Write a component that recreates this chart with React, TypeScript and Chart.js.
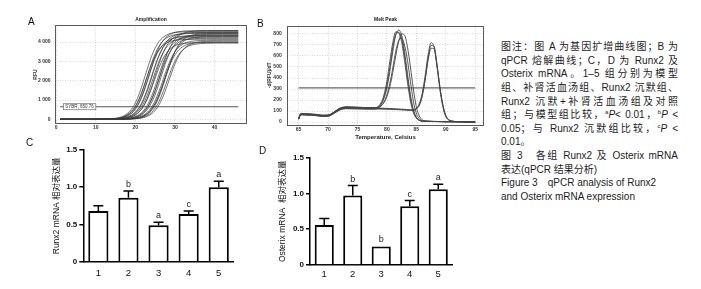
import React, { useEffect, useRef } from 'react';
import { Chart, registerables } from 'chart.js';

Chart.register(...registerables);

const SANS = '"Liberation Sans", Arial, "Noto Sans CJK SC", sans-serif';

// ---------------- Panel A: amplification curves ----------------
const A_CYCLES = [1, 10, 15, 17, 19, 20, 21, 22, 23, 24, 25, 26, 27, 28, 29, 30, 31, 32, 33, 35, 38, 42, 46];
const A_RFU_1 = [0, 5, 55, 175, 515, 850, 1330, 1945, 2605, 3220, 3700, 4035, 4250, 4375, 4455, 4495, 4520, 4530, 4540, 4545, 4550, 4550, 4550];
const A_RFU_2 = [0, 3, 40, 125, 385, 650, 1050, 1590, 2225, 2860, 3400, 3800, 4065, 4230, 4325, 4380, 4410, 4430, 4440, 4445, 4450, 4450, 4450];
const A_RFU_3 = [0, 2, 30, 97, 305, 520, 860, 1345, 1965, 2635, 3255, 3740, 4080, 4295, 4425, 4505, 4545, 4570, 4580, 4595, 4600, 4600, 4600];
const A_RFU_4 = [0, 2, 22, 70, 218, 378, 635, 1027, 1553, 2175, 2797, 3323, 3715, 3972, 4133, 4228, 4280, 4311, 4328, 4343, 4350, 4350, 4350];
const A_RFU_5 = [0, 1, 16, 51, 162, 281, 480, 795, 1241, 1815, 2435, 3009, 3455, 3770, 3970, 4089, 4161, 4199, 4220, 4237, 4247, 4250, 4250];
const A_RFU_6 = [0, 1, 13, 41, 126, 225, 392, 657, 1062, 1607, 2250, 2894, 3438, 3843, 4109, 4275, 4374, 4428, 4460, 4487, 4498, 4500, 4500];
const A_RFU_7 = [0, 1, 7, 21, 67, 118, 210, 365, 613, 991, 1499, 2100, 2701, 3209, 3587, 3835, 3990, 4082, 4133, 4179, 4196, 4200, 4200];
const A_RFU_8 = [0, 0, 5, 16, 53, 92, 167, 290, 497, 823, 1285, 1879, 2521, 3115, 3577, 3903, 4110, 4233, 4308, 4369, 4396, 4400, 4400];
const A_RFU_9 = [0, 0, 4, 11, 37, 66, 115, 205, 357, 599, 968, 1464, 2050, 2636, 3132, 3501, 3743, 3895, 3985, 4063, 4092, 4100, 4100];
const A_RFU_10 = [0, 0, 3, 9, 29, 52, 90, 163, 284, 486, 804, 1256, 1836, 2464, 3044, 3496, 3814, 4016, 4137, 4248, 4291, 4300, 4300];
const A_RFU_11 = [0, 0, 2, 6, 20, 36, 63, 111, 198, 344, 577, 932, 1410, 1975, 2540, 3018, 3373, 3606, 3753, 3887, 3938, 3950, 3950];
const A_RFU_12 = [0, 0, 1, 4, 15, 27, 49, 85, 154, 267, 458, 757, 1183, 1729, 2321, 2867, 3293, 3592, 3783, 3965, 4038, 4050, 4050];
const A_RFU_13 = [0, 2, 33, 106, 326, 553, 904, 1393, 1993, 2617, 3168, 3589, 3873, 4052, 4159, 4220, 4255, 4275, 4286, 4297, 4300, 4300, 4300];
const A_RFU_14 = [0, 1, 19, 63, 196, 342, 579, 946, 1458, 2085, 2739, 3316, 3756, 4054, 4240, 4352, 4417, 4453, 4474, 4491, 4499, 4500, 4500];
const A_RFU_15 = [0, 3, 43, 137, 412, 686, 1092, 1624, 2227, 2805, 3278, 3616, 3835, 3969, 4047, 4092, 4118, 4132, 4140, 4148, 4150, 4150, 4150];
const A_RFU_16 = [0, 1, 8, 25, 80, 143, 251, 432, 719, 1145, 1703, 2334, 2941, 3436, 3790, 4020, 4160, 4243, 4290, 4331, 4348, 4350, 4350];
const A_RFU_17 = [0, 0, 6, 20, 64, 114, 201, 349, 592, 967, 1490, 2132, 2800, 3389, 3839, 4144, 4335, 4449, 4515, 4573, 4598, 4600, 4600];
const A_RFU_18 = [0, 0, 3, 10, 31, 56, 99, 174, 304, 515, 841, 1296, 1854, 2434, 2947, 3338, 3603, 3769, 3868, 3958, 3996, 4000, 4000];
const A_RFU_19 = [0, 0, 3, 8, 26, 46, 82, 146, 257, 441, 736, 1171, 1742, 2388, 3008, 3515, 3877, 4112, 4256, 4388, 4439, 4450, 4450];
const A_RFU_20 = [0, 1, 13, 41, 131, 230, 395, 658, 1048, 1558, 2136, 2690, 3143, 3468, 3678, 3806, 3882, 3925, 3949, 3970, 3979, 3980, 3980];
const A_CURVES = [
  A_RFU_1, A_RFU_2, A_RFU_3, A_RFU_4, A_RFU_5, A_RFU_6, A_RFU_7, A_RFU_8, A_RFU_9, A_RFU_10,
  A_RFU_11, A_RFU_12, A_RFU_13, A_RFU_14, A_RFU_15, A_RFU_16, A_RFU_17, A_RFU_18, A_RFU_19, A_RFU_20,
];
const A_THRESHOLD = 650.76;
const A_THRESHOLD_LABEL = 'SYBR, 650.76';
const A_X_TICKS = [0, 10, 20, 30, 40];
const A_Y_TICKS = [0, 1000, 2000, 3000, 4000];

// ---------------- Panel B: melt peak curves ----------------
const B_TEMPS = [65, 65.4, 66, 67, 68, 69, 70, 71, 72, 73, 74, 75, 76, 77, 78, 78.5, 79, 79.5, 80, 80.5, 81, 81.5, 82, 82.5, 83, 83.5, 84, 84.5, 85, 85.5, 86, 86.5, 87, 87.5, 88, 88.5, 89, 89.5, 90, 90.5, 91, 92, 95];
const B_MELT_1 = [28, 74, 72, 70, 66, 59, 60, 88, 122, 134, 133, 131, 130, 129, 129, 135, 160, 215, 310, 460, 640, 790, 835, 790, 640, 440, 250, 115, 45, 18, 10, 8, 7, 6, 5, 5, 4, 4, 3, 3, 3, 2, 0];
const B_MELT_2 = [32, 70, 68, 66, 62, 55, 56, 82, 115, 127, 126, 124, 123, 122, 122, 130, 160, 225, 335, 495, 675, 795, 815, 760, 600, 400, 220, 100, 40, 16, 9, 7, 6, 5, 5, 4, 4, 3, 3, 3, 2, 2, 0];
const B_MELT_3 = [35, 78, 76, 73, 69, 62, 63, 90, 125, 137, 136, 134, 132, 131, 130, 132, 145, 175, 230, 320, 450, 600, 730, 800, 790, 680, 500, 300, 140, 55, 20, 10, 7, 6, 5, 5, 4, 4, 3, 3, 3, 2, 0];
const B_MELT_4 = [25, 66, 64, 62, 58, 52, 53, 78, 110, 122, 121, 120, 119, 118, 118, 125, 145, 182, 248, 350, 490, 640, 740, 760, 700, 560, 370, 190, 80, 30, 12, 8, 7, 6, 5, 5, 4, 4, 3, 3, 3, 2, 0];
const B_MELT_5 = [30, 72, 70, 68, 64, 57, 58, 85, 118, 130, 129, 127, 126, 125, 125, 124, 123, 122, 120, 119, 118, 116, 115, 113, 112, 110, 108, 108, 125, 165, 260, 420, 610, 720, 685, 510, 300, 140, 50, 18, 8, 4, 0];
const B_MELT_6 = [28, 74, 72, 70, 66, 59, 60, 88, 122, 134, 133, 131, 130, 129, 128, 127, 126, 125, 124, 122, 121, 120, 118, 117, 115, 113, 112, 111, 122, 155, 240, 390, 580, 695, 690, 530, 320, 155, 58, 20, 9, 4, 0];
const B_MELT_7 = [25, 66, 64, 62, 58, 52, 53, 78, 110, 122, 121, 120, 119, 118, 118, 118, 117, 117, 116, 115, 114, 113, 112, 110, 109, 107, 106, 105, 118, 150, 235, 380, 560, 670, 665, 520, 320, 160, 60, 22, 9, 4, 0];
const B_MELT_8 = [35, 78, 76, 73, 69, 62, 63, 90, 125, 137, 136, 134, 132, 131, 131, 140, 175, 245, 370, 550, 720, 820, 810, 730, 560, 360, 190, 85, 35, 14, 8, 7, 6, 5, 5, 4, 4, 3, 3, 3, 2, 2, 0];
const B_CURVES = [B_MELT_1, B_MELT_2, B_MELT_3, B_MELT_4, B_MELT_5, B_MELT_6, B_MELT_7, B_MELT_8];
const B_THRESHOLD = 310;
const B_X_TICKS = [65, 70, 75, 80, 85, 90, 95];
const B_Y_TICKS = [0, 100, 200, 300, 400, 500, 600, 700, 800];

// ---------------- Panels C / D: bar charts ----------------
const GROUPS = ['1', '2', '3', '4', '5'];
const BAR_Y_TICKS = [0, 0.5, 1.0, 1.5];
const C_RUNX2_MEAN = [0.68, 0.86, 0.49, 0.64, 1.0];
const C_RUNX2_SD = [0.07, 0.09, 0.04, 0.04, 0.08];
const C_LETTERS = ['', 'b', 'a', 'c', 'a'];
const D_OSTERIX_MEAN = [0.56, 0.97, 0.26, 0.82, 1.06];
const D_OSTERIX_SD = [0.09, 0.14, 0, 0.08, 0.07];
const D_LETTERS = ['', 'b', 'b', 'c', 'a'];

type Geom = { left: number; top: number; width: number; height: number };

function ChartCanvas({ geom, build }: { geom: Geom; build: () => any }) {
  const ref = useRef<HTMLCanvasElement | null>(null);
  useEffect(() => {
    if (!ref.current) return;
    const chart = new Chart(ref.current, build());
    return () => chart.destroy();
  }, []);
  return (
    <canvas
      ref={ref}
      width={geom.width}
      height={geom.height}
      style={{ position: 'absolute', left: geom.left, top: geom.top, width: geom.width, height: geom.height }}
    />
  );
}

const framePlugin = (title: string, gap: number) => ({
  id: 'frame',
  afterDraw(chart: any) {
    const { ctx, chartArea: a } = chart;
    ctx.save();
    ctx.strokeStyle = '#5a5a5a';
    ctx.lineWidth = 1;
    ctx.strokeRect(Math.round(a.left) + 0.5, Math.round(a.top) + 0.5, Math.round(a.right - a.left) - 1, Math.round(a.bottom - a.top) - 1);
    ctx.fillStyle = '#222';
    ctx.font = `bold 5px ${SANS}`;
    ctx.textAlign = 'center';
    ctx.textBaseline = 'middle';
    ctx.fillText(title, (a.left + a.right) / 2, a.top - gap);
    ctx.restore();
  },
});

const thresholdLabelPlugin = {
  id: 'thrLabel',
  afterDatasetsDraw(chart: any) {
    const { ctx, scales } = chart;
    const x0 = scales.x.getPixelForValue(1.8);
    const y0 = scales.y.getPixelForValue(A_THRESHOLD);
    ctx.save();
    ctx.font = `4.5px ${SANS}`;
    const w = ctx.measureText(A_THRESHOLD_LABEL).width + 4;
    ctx.fillStyle = '#fff';
    ctx.fillRect(x0, y0 - 3, w, 6);
    ctx.strokeStyle = '#555';
    ctx.lineWidth = 0.6;
    ctx.strokeRect(x0, y0 - 3, w, 6);
    ctx.fillStyle = '#333';
    ctx.textBaseline = 'middle';
    ctx.fillText(A_THRESHOLD_LABEL, x0 + 2, y0 + 0.3);
    ctx.restore();
  },
};

const smallTickFont = { family: SANS, size: 5, weight: 'bold' as const };
const dottedGrid = { color: '#bdbdbd', lineWidth: 0.6, drawTicks: false };
const dottedBorder = { display: false, dash: [1, 1.5] };

function amplificationConfig() {
  const datasets: any[] = A_CURVES.map((d) => ({
    data: d,
    borderColor: '#3c3c3c',
    borderWidth: 0.7,
    pointRadius: 0,
    cubicInterpolationMode: 'monotone',
    fill: false,
  }));
  datasets.push({
    data: [
      { x: A_CYCLES[0], y: A_THRESHOLD },
      { x: A_CYCLES[A_CYCLES.length - 1], y: A_THRESHOLD },
    ],
    borderColor: '#555',
    borderWidth: 1.1,
    pointRadius: 0,
  });
  return {
    type: 'line',
    data: { labels: A_CYCLES, datasets },
    options: {
      animation: false,
      responsive: false,
      events: [],
      layout: { padding: { left: 0, top: 25, right: 11, bottom: 0 } },
      plugins: { legend: { display: false }, tooltip: { enabled: false } },
      scales: {
        x: {
          type: 'linear',
          min: -0.3,
          max: 48.2,
          afterBuildTicks: (s: any) => { s.ticks = A_X_TICKS.map((v) => ({ value: v })); },
          afterFit: (s: any) => { s.height = 16; },
          grid: dottedGrid,
          border: dottedBorder,
          ticks: { padding: 1, color: '#333', font: smallTickFont, maxRotation: 0, autoSkip: false },
        },
        y: {
          type: 'linear',
          min: -243,
          max: 4886,
          afterBuildTicks: (s: any) => { s.ticks = A_Y_TICKS.map((v) => ({ value: v })); },
          afterFit: (s: any) => { s.width = 55; },
          grid: dottedGrid,
          border: dottedBorder,
          ticks: {
            padding: 4.5,
            color: '#333',
            font: smallTickFont,
            callback: (v: any) => (v === 0 ? '0' : `${Math.floor(v / 1000)} ${String(v % 1000).padStart(3, '0')}`),
          },
          title: { display: true, text: 'RFU', color: '#333', font: smallTickFont, padding: { top: 33, bottom: 0 } },
        },
      },
    },
    plugins: [framePlugin('Amplification', 5), thresholdLabelPlugin],
  };
}

function meltConfig() {
  const datasets: any[] = B_CURVES.map((d) => ({
    data: d,
    borderColor: '#454545',
    borderWidth: 0.9,
    pointRadius: 0,
    cubicInterpolationMode: 'monotone',
    fill: false,
  }));
  datasets.push({
    data: [
      { x: B_TEMPS[0], y: B_THRESHOLD },
      { x: B_X_TICKS[B_X_TICKS.length - 1], y: B_THRESHOLD },
    ],
    borderColor: '#666',
    borderWidth: 1.1,
    pointRadius: 0,
  });
  return {
    type: 'line',
    data: { labels: B_TEMPS, datasets },
    options: {
      animation: false,
      responsive: false,
      events: [],
      layout: { padding: { left: 0, top: 25.5, right: 14, bottom: 0 } },
      plugins: { legend: { display: false }, tooltip: { enabled: false } },
      scales: {
        x: {
          type: 'linear',
          min: 63.03,
          max: 96.5,
          afterBuildTicks: (s: any) => { s.ticks = B_X_TICKS.map((v) => ({ value: v })); },
          afterFit: (s: any) => { s.height = 20; },
          grid: dottedGrid,
          border: dottedBorder,
          ticks: { padding: 2, color: '#333', font: smallTickFont, maxRotation: 0, autoSkip: false },
          title: { display: true, text: 'Temperature, Celsius', color: '#222', font: { family: SANS, size: 6, weight: 'bold' }, padding: { top: 0, bottom: 4.4 } },
        },
        y: {
          type: 'linear',
          min: -27,
          max: 877,
          afterBuildTicks: (s: any) => { s.ticks = B_Y_TICKS.map((v) => ({ value: v })); },
          afterFit: (s: any) => { s.width = 29; },
          grid: dottedGrid,
          border: dottedBorder,
          ticks: { padding: 5.3, color: '#333', font: smallTickFont },
          title: { display: true, text: '-d(RFU)/dT', color: '#333', font: smallTickFont, padding: { top: 9, bottom: 0 } },
        },
      },
    },
    plugins: [framePlugin('Melt Peak', 5.5)],
  };
}

const errorPlugin = (values: number[], sds: number[], letters: string[]) => ({
  id: 'errorBars',
  afterDatasetsDraw(chart: any) {
    const { ctx } = chart;
    const ys = chart.scales.y;
    const meta = chart.getDatasetMeta(0);
    ctx.save();
    ctx.strokeStyle = '#000';
    ctx.lineWidth = 1.5;
    meta.data.forEach((bar: any, i: number) => {
      const x = bar.x;
      const yTop = ys.getPixelForValue(values[i]);
      let yMark = yTop;
      if (sds[i] > 0) {
        const yErr = ys.getPixelForValue(values[i] + sds[i]);
        ctx.beginPath();
        ctx.moveTo(x, yTop);
        ctx.lineTo(x, yErr);
        ctx.moveTo(x - 5, yErr);
        ctx.lineTo(x + 5, yErr);
        ctx.stroke();
        yMark = yErr;
      }
      if (letters[i]) {
        ctx.fillStyle = '#222';
        ctx.font = `9px ${SANS}`;
        ctx.textAlign = 'center';
        ctx.textBaseline = 'middle';
        ctx.fillText(letters[i], x, yMark - 6.5);
      }
    });
    ctx.restore();
  },
});

type BarGeom = { padTop: number; padRight: number; xHeight: number; yWidth: number; titlePad: number; xPad: number; barPct: number };

function barConfig(values: number[], sds: number[], letters: string[], yTitle: string, g: BarGeom) {
  return {
    type: 'bar',
    data: {
      labels: GROUPS,
      datasets: [
        {
          data: values,
          backgroundColor: '#fff',
          borderColor: '#000',
          borderWidth: 2,
          borderSkipped: 'start',
          barPercentage: g.barPct,
          categoryPercentage: 1,
        },
      ],
    },
    options: {
      animation: false,
      responsive: false,
      events: [],
      layout: { padding: { left: 0, top: g.padTop, right: g.padRight, bottom: 0 } },
      plugins: { legend: { display: false }, tooltip: { enabled: false } },
      scales: {
        x: {
          offset: true,
          afterFit: (s: any) => { s.height = g.xHeight; },
          grid: { display: false, drawTicks: false },
          border: { display: true, color: '#000', width: 1.5 },
          ticks: { padding: g.xPad, color: '#111', font: { family: SANS, size: 9.5 } },
        },
        y: {
          min: 0,
          max: 1.5,
          afterBuildTicks: (s: any) => { s.ticks = BAR_Y_TICKS.map((v) => ({ value: v })); },
          afterFit: (s: any) => { s.width = g.yWidth; },
          grid: { display: true, drawOnChartArea: false, tickLength: 4, color: '#000', lineWidth: 1.5 },
          border: { display: true, color: '#000', width: 1.5 },
          ticks: {
            padding: 2,
            color: '#111',
            font: { family: SANS, size: 8, weight: 'bold' },
            callback: (v: any) => (v === 0 ? '0' : Number(v).toFixed(1)),
          },
          title: { display: true, text: yTitle, color: '#111', font: { family: SANS, size: 8.5 }, padding: { top: g.titlePad, bottom: 0 } },
        },
      },
    },
    plugins: [errorPlugin(values, sds, letters)],
  };
}

const panelLetter = (t: string, cx: number, cy: number) => (
  <div
    key={t}
    style={{ position: 'absolute', left: cx - 4, top: cy - 6, height: 12, lineHeight: '12px', fontSize: 10, fontFamily: SANS, color: '#111' }}
  >
    {t}
  </div>
);

const Sup = ({ t }: { t: string }) => (
  <span style={{ fontSize: 6, position: 'relative', top: -4, lineHeight: 0 }}>{t}</span>
);

const LINE_H = 13.6;

function Caption() {
  const full: React.CSSProperties = { textAlign: 'justify', textAlignLast: 'justify' as any };
  const lines: [React.ReactNode, boolean][] = [
    ['图注：图 A 为基因扩增曲线图；B 为', true],
    ['qPCR 熔解曲线；C，D 为 Runx2 及', true],
    ['Osterix mRNA。1–5 组分别为模型', true],
    ['组、补肾活血汤组、Runx2 沉默组、', true],
    ['Runx2 沉默+补肾活血汤组及对照', true],
    [<>组；与模型组比较，<Sup t="a" /><i>P</i>&lt; 0.01，<Sup t="b" /><i>P</i> &lt;</>, true],
    [<>0.05；与 Runx2 沉默组比较，<Sup t="c" /><i>P</i> &lt;</>, true],
    ['0.01。', false],
    ['图 3　各组 Runx2 及 Osterix mRNA', true],
    ['表达(qPCR 结果分析)', false],
    ['Figure 3　qPCR analysis of Runx2', false],
    ['and Osterix mRNA expression', false],
  ];
  return (
    <div style={{ position: 'absolute', left: 501, top: 40.2, width: 177, fontFamily: SANS, fontSize: 10, color: '#1c1c1c' }}>
      {lines.map(([content, isFull], i) => (
        <div key={i} style={{ height: LINE_H, lineHeight: `${LINE_H}px`, whiteSpace: 'nowrap', ...(isFull ? full : {}) }}>
          {content}
        </div>
      ))}
    </div>
  );
}

export default function App() {
  return (
    <div style={{ position: 'relative', width: 701, height: 289, background: '#fff', overflow: 'hidden', fontFamily: SANS }}>
      <style>{'html,body{margin:0;padding:0;background:#fff;}'}</style>
      <ChartCanvas geom={{ left: 0, top: 0, width: 258, height: 140 }} build={amplificationConfig} />
      <ChartCanvas geom={{ left: 258, top: 0, width: 240, height: 145 }} build={meltConfig} />
      <ChartCanvas
        geom={{ left: 0, top: 140, width: 245, height: 149 }}
        build={() =>
          barConfig(C_RUNX2_MEAN, C_RUNX2_SD, C_LETTERS, 'Runx2 mRNA 相对表达量', {
            padTop: 10, padRight: 11.2, xHeight: 27.3, yWidth: 83.3, titlePad: 52, xPad: 5.5, barPct: 0.67,
          })
        }
      />
      <ChartCanvas
        geom={{ left: 245, top: 140, width: 215, height: 149 }}
        build={() =>
          barConfig(D_OSTERIX_MEAN, D_OSTERIX_SD, D_LETTERS, 'Osterix mRNA  相对表达量', {
            padTop: 17.7, padRight: 7.5, xHeight: 24, yWidth: 65, titlePad: 33, xPad: 3.8, barPct: 0.67,
          })
        }
      />
      {panelLetter('A', 32, 22)}
      {panelLetter('B', 261, 24)}
      {panelLetter('C', 30, 143)}
      {panelLetter('D', 263, 151)}
      <Caption />
    </div>
  );
}
